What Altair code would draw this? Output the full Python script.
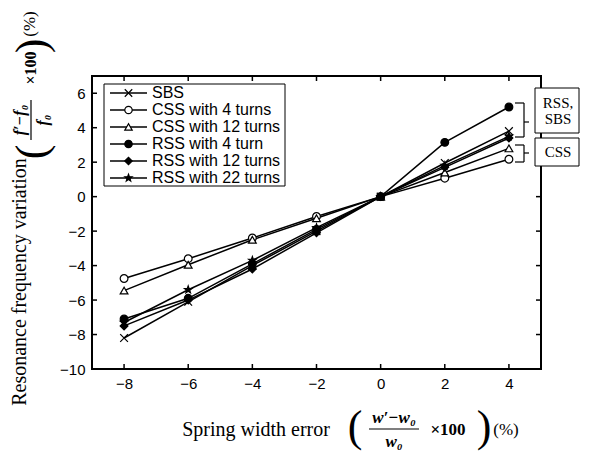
import altair as alt
import pandas as pd

# ---------------- data ----------------
x_vals = [-8, -6, -4, -2, 0, 2, 4]
series_names = ["SBS", "CSS with 4 turns", "CSS with 12 turns",
                "RSS with 4 turn", "RSS with 12 turns", "RSS with 22 turns"]
sbs = [-8.2, -6.1, -4.0, -2.0, 0.0, 1.95, 3.8]
css4 = [-4.75, -3.6, -2.4, -1.15, 0.0, 1.07, 2.17]
css12 = [-5.45, -3.95, -2.5, -1.25, 0.0, 1.4, 2.8]
rss4 = [-7.1, -5.9, -3.9, -1.9, 0.0, 3.15, 5.2]
rss12 = [-7.5, -6.0, -4.2, -2.1, 0.0, 1.7, 3.4]
rss22 = [-7.3, -5.4, -3.7, -1.8, 0.0, 1.8, 3.5]
x_ticks = [-8, -6, -4, -2, 0, 2, 4]
y_ticks = [-10, -8, -6, -4, -2, 0, 2, 4, 6]

all_series = [sbs, css4, css12, rss4, rss12, rss22]
rows = []
for name, vals in zip(series_names, all_series):
    for xv, yv in zip(x_vals, vals):
        rows.append({"series": name, "x": xv, "y": yv})
df = pd.DataFrame(rows)
leg_df = pd.DataFrame({"series": series_names, "row": list(range(len(series_names)))})
one = pd.DataFrame({"a": [1]})

# ---------------- layout ----------------
W, H = 449, 293
ROW = 17
xs = alt.Scale(domain=[-9, 5], nice=False, zero=False)
ys = alt.Scale(domain=[-10, 7], nice=False, zero=False)
row_scale = alt.Scale(domain=[-1, H / ROW - 1], reverse=True, nice=False, zero=False)

cross_path = "M-1,-1L1,1M-1,1L1,-1"
star_path = ("M0,-1L0.235,-0.324L0.951,-0.309L0.38,0.124L0.588,0.809L0,0.4"
             "L-0.588,0.809L-0.38,0.124L-0.951,-0.309L-0.235,-0.324Z")
shape_scale = alt.Scale(domain=series_names,
                        range=[cross_path, "circle", "triangle-up", "circle", "diamond", star_path])
fill_scale = alt.Scale(domain=series_names,
                       range=["transparent", "white", "white", "black", "black", "black"])

# ---------------- main plot ----------------
x_enc = alt.X("x:Q", scale=xs, axis=alt.Axis(values=x_ticks, title=None, labelPadding=7))
y_enc = alt.Y("y:Q", scale=ys, axis=alt.Axis(values=y_ticks, title=None, labelPadding=7))

lines = alt.Chart(df).mark_line(color="black", strokeWidth=1.5).encode(
    x=x_enc, y=y_enc, detail="series:N",
)
points = alt.Chart(df).mark_point(size=60, strokeWidth=1.2, opacity=1).encode(
    x=x_enc, y=y_enc,
    shape=alt.Shape("series:N", scale=shape_scale, legend=None),
    fill=alt.Fill("series:N", scale=fill_scale, legend=None),
    stroke=alt.value("black"),
)

xt = pd.DataFrame({"x": x_ticks})
yt = pd.DataFrame({"y": y_ticks})
tick_b = alt.Chart(xt).mark_rule(color="black", strokeWidth=1.5).encode(
    x=x_enc, y=alt.value(H), y2=alt.value(H - 5))
tick_t = alt.Chart(xt).mark_rule(color="black", strokeWidth=1.5).encode(
    x=x_enc, y=alt.value(0), y2=alt.value(5))
tick_l = alt.Chart(yt).mark_rule(color="black", strokeWidth=1.5).encode(
    y=y_enc, x=alt.value(0), x2=alt.value(5))
tick_r = alt.Chart(yt).mark_rule(color="black", strokeWidth=1.5).encode(
    y=y_enc, x=alt.value(W), x2=alt.value(W - 5))

main = alt.layer(lines, points, tick_b, tick_t, tick_l, tick_r)

# ---------------- legend ----------------
leg_y = alt.Y("row:Q", scale=row_scale, axis=None)
leg_box = alt.Chart(one).mark_rect(fill="white", stroke="black", strokeWidth=1).encode(
    x=alt.value(12), x2=alt.value(193), y=alt.value(8), y2=alt.value(110))
leg_lines = alt.Chart(leg_df).mark_rule(color="black", strokeWidth=1.5).encode(
    x=alt.value(18), x2=alt.value(55), y=leg_y)
leg_pts = alt.Chart(leg_df).mark_point(size=55, strokeWidth=1.2, opacity=1).encode(
    x=alt.value(36.5), y=leg_y,
    shape=alt.Shape("series:N", scale=shape_scale, legend=None),
    fill=alt.Fill("series:N", scale=fill_scale, legend=None),
    stroke=alt.value("black"),
)
leg_text = alt.Chart(leg_df).mark_text(
    align="left", baseline="middle", font="Liberation Sans", fontSize=16, color="black").encode(
    x=alt.value(60), y=leg_y, text="series:N")
legend = alt.layer(leg_box, leg_lines, leg_pts, leg_text)


# ---------------- annotations ----------------
def txt(s, x, y, size, font="Liberation Serif", angle=0, weight="normal", style="normal", align="center"):
    return alt.Chart(one).mark_text(
        text=s, fontSize=size, font=font, angle=angle, fontWeight=weight,
        fontStyle=style, align=align, baseline="middle", color="black").encode(
        x=alt.value(x), y=alt.value(y))


def seg(x1, y1, x2, y2, w=1.2):
    return alt.Chart(one).mark_rule(color="black", strokeWidth=w).encode(
        x=alt.value(x1), x2=alt.value(x2), y=alt.value(y1), y2=alt.value(y2))


def box(x1, y1, x2, y2):
    return alt.Chart(one).mark_rect(fill="white", stroke="black", strokeWidth=1).encode(
        x=alt.value(x1), x2=alt.value(x2), y=alt.value(y1), y2=alt.value(y2))


annots = [
    # y-axis title
    txt("Resonance frequency variation", -72, 206, 20, angle=270),
    txt("(", -59, 76, 44, angle=270),
    txt("f′−f₀", -72, 44, 16, angle=270, weight="bold", style="italic"),
    seg(-61, 24, -61, 64, 1.2),
    txt("f₀", -49, 44, 16, angle=270, weight="bold", style="italic"),
    txt("×100", -61, -8, 16, angle=270, weight="bold"),
    txt(")", -59, -30, 44, angle=270),
    txt("(%)", -62, -52, 17, angle=270),
    # x-axis title
    txt("Spring width error", 164, 354, 20),
    txt("(", 263, 352, 44),
    txt("w′−w₀", 302, 342, 17, weight="bold", style="italic"),
    seg(277, 353, 327, 353, 1.2),
    txt("w₀", 302, 366, 17, weight="bold", style="italic"),
    txt("×100", 356, 354, 17, weight="bold"),
    txt(")", 392, 352, 44),
    txt("(%)", 414, 354, 17),
    # right side brackets & boxes
    seg(423, 27, 432, 27), seg(432, 27, 432, 61), seg(423, 61, 432, 61), seg(432, 46, 437, 46),
    seg(423, 69, 432, 69), seg(432, 69, 432, 86), seg(423, 86, 432, 86), seg(432, 77, 437, 77),
    box(443, 12, 487, 57),
    box(443, 62, 487, 90),
    txt("RSS,", 466, 27, 15),
    txt("SBS", 466, 43, 15),
    txt("CSS", 466, 76, 15),
]
annot = alt.layer(*annots)

chart = alt.layer(main, legend, annot).resolve_scale(y="independent").properties(
    width=W, height=H,
    autosize=alt.AutoSizeParams(type="none"),
    padding={"left": 84, "top": 68, "right": 40, "bottom": 82},
).configure_view(stroke="black", strokeWidth=2).configure_axis(
    labelFont="Liberation Sans", labelFontSize=15, labelColor="black",
    ticks=False, domain=False, grid=False,
)

chart.save("out.html", embed_options={"renderer": "svg", "actions": False})
